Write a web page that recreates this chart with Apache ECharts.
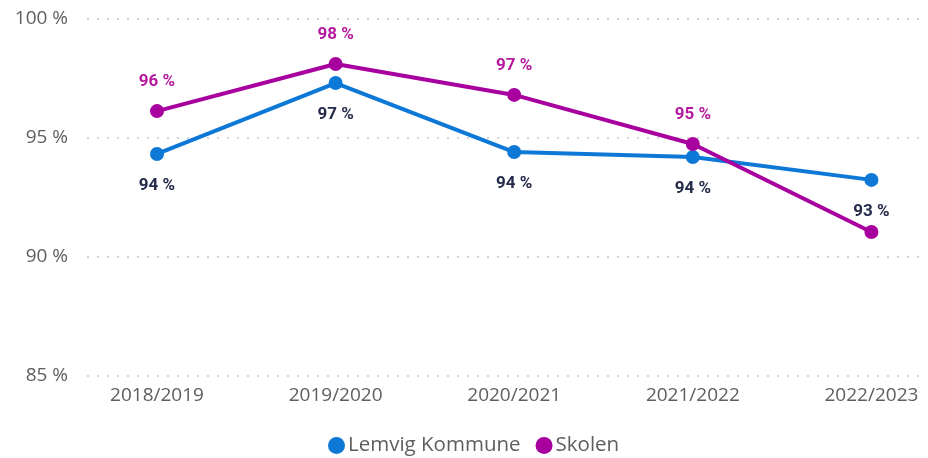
<!DOCTYPE html>
<html><head><meta charset="utf-8">
<script src="https://cdn.jsdelivr.net/npm/echarts@6/dist/echarts.min.js"></script>
<style>html,body{margin:0;padding:0;background:#fff}#c{width:928px;height:458px}</style>
</head><body><div id="c"></div>
<script>
const categories = ['2018/2019','2019/2020','2020/2021','2021/2022','2022/2023'];
const lemvig = [94.33, 97.31, 94.41, 94.2, 93.24];
const skolen = [96.13, 98.11, 96.81, 94.75, 91.05];
const skolenLabelShown = [true, true, true, true, false];
const yTicks = [85, 90, 95, 100];

const chart = echarts.init(document.getElementById('c'));
const pct = v => Math.round(v) + ' %';
chart.setOption({
  animation: false,
  grid: {left: 87, right: 3, top: 19, bottom: 82},
  xAxis: {
    type: 'value', min: -0.392, max: 4.3,
    axisLine: {show: false}, axisTick: {show: false}, splitLine: {show: false},
    axisLabel: {customValues: [0,1,2,3,4], formatter: v => categories[Math.round(v)] || '',
      fontFamily: 'Open Sans', fontSize: 19, color: '#605E5C', margin: 10}
  },
  yAxis: {
    type: 'value', min: yTicks[0], max: yTicks[yTicks.length-1], interval: 5,
    axisLine: {show: false}, axisTick: {show: false},
    axisLabel: {formatter: v => v + ' %', fontFamily: 'Open Sans', fontSize: 19, color: '#605E5C', margin: 19},
    splitLine: {lineStyle: {color: '#C8C6C4', type: [2, 8], width: 1.5}}
  },
  legend: {
    top: 430, left: 323, icon: 'circle', itemWidth: 17, itemHeight: 17, itemGap: 15,
    textStyle: {fontFamily: 'Open Sans', fontSize: 20.5, color: '#605E5C', padding: [0,0,0,-2]},
    data: ['Lemvig Kommune', 'Skolen']
  },
  series: [
    {name: 'Lemvig Kommune', type: 'line', data: lemvig.map((v,i)=>[i,v]),
      symbol: 'circle', symbolSize: 14, lineStyle: {width: 4, color: '#0D78D6'},
      itemStyle: {color: '#0D78D6'},
      label: {show: true, position: 'bottom', distance: 16, formatter: p => pct(p.value[1]),
        fontFamily: 'Roboto', fontWeight: 'bold', fontSize: 17, color: '#252B4A'}},
    {name: 'Skolen', type: 'line', data: skolen.map((v,i)=>({value:[i,v], label:{show: skolenLabelShown[i]}})),
      symbol: 'circle', symbolSize: 14, lineStyle: {width: 4, color: '#A8009F'},
      itemStyle: {color: '#A8009F'},
      label: {show: true, position: 'top', distance: 14, formatter: p => pct(p.value[1]),
        fontFamily: 'Roboto', fontWeight: 'bold', fontSize: 17, color: '#B51A9E'}}
  ]
});
</script></body></html>
